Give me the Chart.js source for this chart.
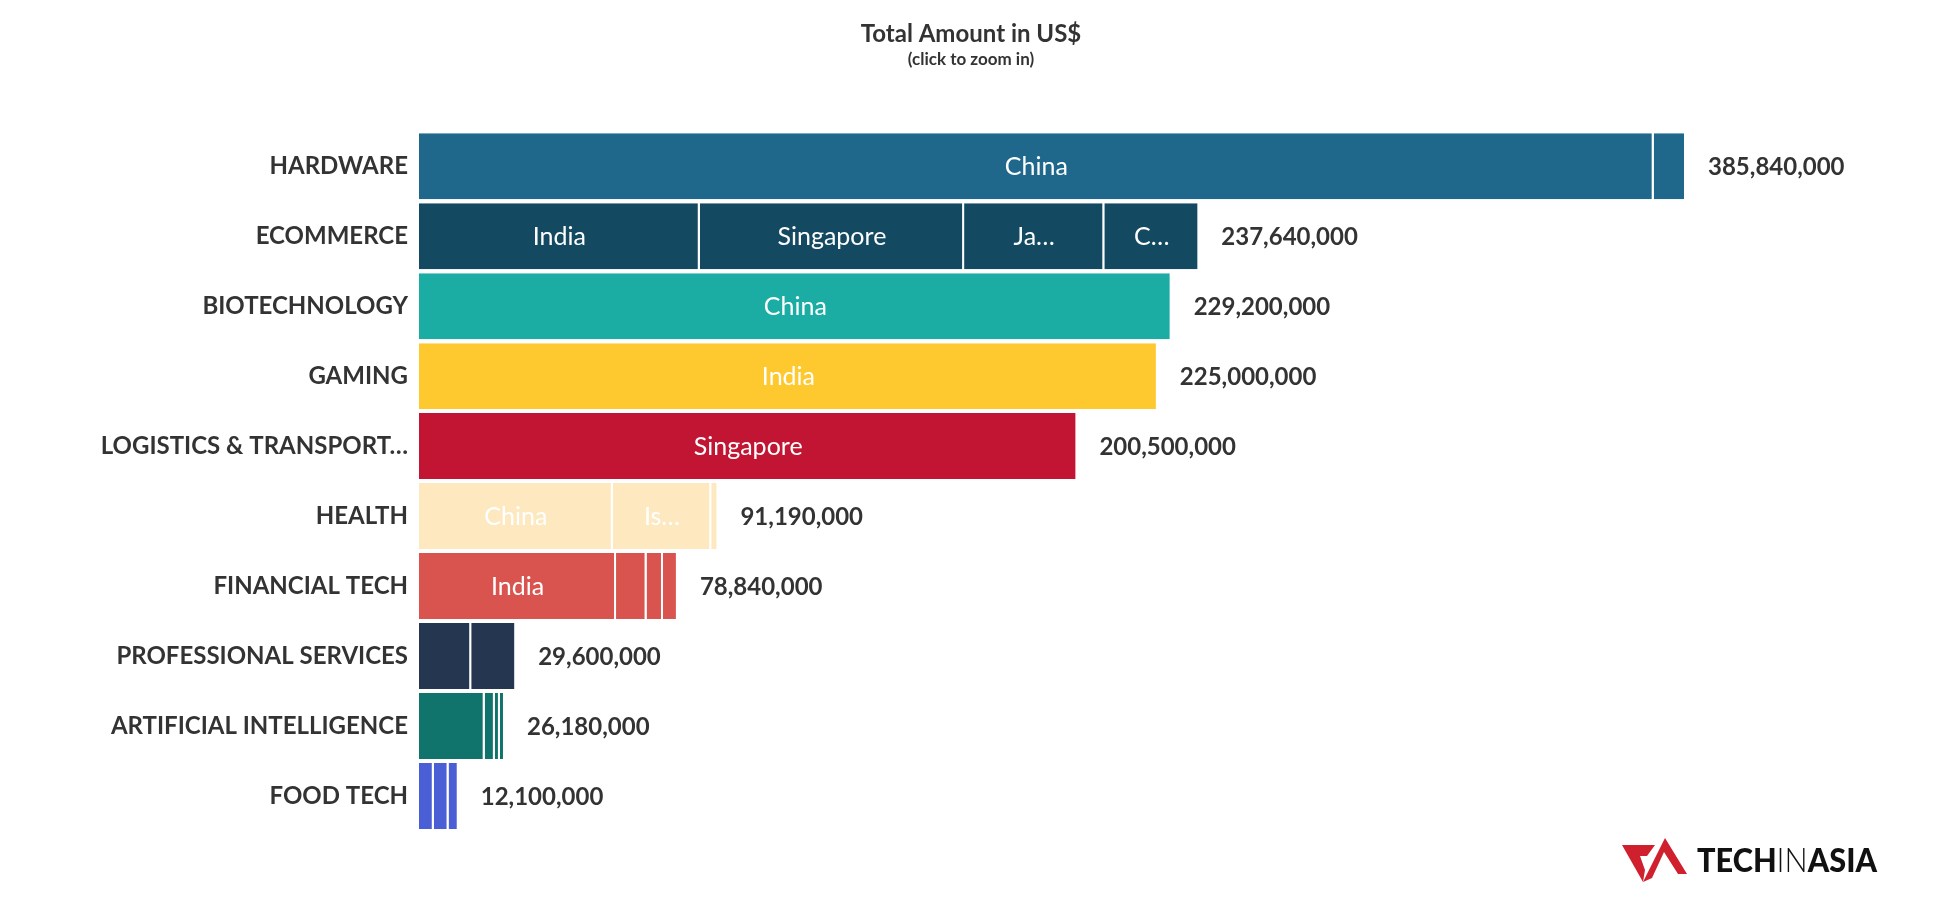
<!DOCTYPE html>
<html lang="en">
<head>
    <meta charset="UTF-8">
    <title>Total Amount in US$</title>
    <script src="https://cdn.jsdelivr.net/npm/chart.js"></script>
    <style>
        body { margin: 0; background: #fff; font-family: Lato, sans-serif; }
        #wrap { width: 1942px; height: 913px; position: relative; }
    </style>
</head>
<body>
    <div id="wrap"><canvas id="amountChart"></canvas></div>
    <script>
        // Industries (bars) and their colours
        const categories = ['HARDWARE', 'ECOMMERCE', 'BIOTECHNOLOGY', 'GAMING', 'LOGISTICS & TRANSPORTATION',
            'HEALTH', 'FINANCIAL TECH', 'PROFESSIONAL SERVICES', 'ARTIFICIAL INTELLIGENCE', 'FOOD TECH'];
        const categoryColors = ['#20688b', '#134a61', '#1bada4', '#fec82f', '#c11533',
            '#fee8bf', '#d9544f', '#253650', '#10736c', '#4a5fd5'];

        // Amount per country segment, in US$ (segment 1 = largest country)
        const segment1 = [376000000, 85500000, 229200000, 225000000, 200500000, 59000000, 60000000, 15900000, 20000000, 4500000];
        const segment2 = [9840000, 80500000, null, null, null, 30000000, 9300000, 13700000, 3100000, 4500000];
        const segment3 = [null, 42700000, null, null, null, 2190000, 5000000, null, 1540000, 3100000];
        const segment4 = [null, 28940000, null, null, null, null, 4540000, null, 1540000, null];

        // Country names as printed inside the segments
        const segment1Labels = ['China', 'India', 'China', 'India', 'Singapore', 'China', 'India', '', '', ''];
        const segment2Labels = ['', 'Singapore', '', '', '', 'Is…', '', '', '', ''];
        const segment3Labels = ['', 'Ja…', '', '', '', '', '', '', '', ''];
        const segment4Labels = ['', 'C…', '', '', '', '', '', '', '', ''];

        const xMax = 463800000;
        const labelMaxWidth = 310;

        const segments = [segment1, segment2, segment3, segment4];
        const segmentLabels = [segment1Labels, segment2Labels, segment3Labels, segment4Labels];
        const totals = categories.map((c, i) => segments.reduce((s, seg) => s + (seg[i] || 0), 0));

        // shorten a category name with an ellipsis when it is too wide
        const measureCtx = document.createElement('canvas').getContext('2d');
        function fitLabel(text) {
            measureCtx.font = 'bold 24px Lato';
            if (measureCtx.measureText(text).width <= labelMaxWidth) return text;
            let t = text;
            while (t.length > 1 && measureCtx.measureText(t + '…').width > labelMaxWidth) t = t.slice(0, -1);
            return t.trimEnd() + '…';
        }

        // Country names in the middle of each segment, totals at the end of each bar
        const barLabels = {
            id: 'barLabels',
            afterDatasetsDraw(chart) {
                const ctx = chart.ctx;
                ctx.save();
                ctx.textBaseline = 'middle';
                ctx.textAlign = 'center';
                ctx.fillStyle = '#ffffff';
                ctx.font = '25px Lato';
                chart.data.datasets.forEach((ds, d) => {
                    chart.getDatasetMeta(d).data.forEach((bar, i) => {
                        const text = segmentLabels[d][i];
                        if (!text || ds.data[i] == null) return;
                        ctx.fillText(text, (bar.x + bar.base) / 2, bar.y + 1);
                    });
                });
                const xScale = chart.scales.x;
                ctx.textAlign = 'left';
                ctx.fillStyle = '#333333';
                ctx.font = 'bold 24px Lato';
                const meta = chart.getDatasetMeta(0);
                totals.forEach((t, i) => {
                    ctx.fillText(t.toLocaleString('en-US'), xScale.getPixelForValue(t) + 22, meta.data[i].y + 1);
                });
                ctx.restore();
            }
        };

        // Tech in Asia logo, bottom right
        const logo = {
            id: 'logo',
            afterDraw(chart) {
                const ctx = chart.ctx;
                ctx.save();
                ctx.fillStyle = '#d0202e';
                ctx.beginPath();
                ctx.moveTo(1622, 845);
                ctx.lineTo(1655, 845);
                ctx.lineTo(1647, 856);
                ctx.lineTo(1640, 856);
                ctx.lineTo(1645, 870);
                ctx.lineTo(1643, 882);
                ctx.closePath();
                ctx.fill();
                ctx.beginPath();
                ctx.moveTo(1643, 882);
                ctx.lineTo(1665, 838);
                ctx.lineTo(1687, 874);
                ctx.lineTo(1678, 874);
                ctx.lineTo(1664, 852);
                ctx.lineTo(1652, 878);
                ctx.closePath();
                ctx.fill();

                ctx.fillStyle = '#111111';
                ctx.textBaseline = 'alphabetic';
                ctx.textAlign = 'left';
                const parts = [['TECH', '900'], ['IN', '300'], ['ASIA', '900']];
                let w = 0;
                parts.forEach(p => { ctx.font = p[1] + ' 33px Lato'; w += ctx.measureText(p[0]).width; });
                const sx = 180 / w;
                ctx.translate(1697, 872);
                ctx.scale(sx, 1);
                let x = 0;
                parts.forEach(p => {
                    ctx.font = p[1] + ' 33px Lato';
                    ctx.fillText(p[0], x, 0);
                    x += ctx.measureText(p[0]).width;
                });
                ctx.restore();
            }
        };

        const ctx = document.getElementById('amountChart').getContext('2d');
        const amountChart = new Chart(ctx, {
            type: 'bar',
            data: {
                labels: categories,
                datasets: segments.map((seg, d) => ({
                    label: 'Segment ' + (d + 1),
                    data: seg,
                    backgroundColor: categoryColors,
                    borderColor: '#ffffff',
                    borderWidth: { top: 0, right: 2, bottom: 0, left: 0 },
                    borderSkipped: false,
                    barPercentage: 66 / 70,
                    categoryPercentage: 1
                }))
            },
            options: {
                indexAxis: 'y',
                responsive: true,
                maintainAspectRatio: false,
                animation: false,
                layout: { padding: { top: 0, right: 0, bottom: 82, left: 0 } },
                plugins: {
                    legend: { display: false },
                    tooltip: { enabled: false },
                    title: {
                        display: true,
                        text: 'Total Amount in US$',
                        color: '#333333',
                        font: { family: 'Lato', size: 24, weight: 'bold', lineHeight: 1.2 },
                        padding: { top: 20, bottom: 0 }
                    },
                    subtitle: {
                        display: true,
                        text: '(click to zoom in)',
                        color: '#333333',
                        font: { family: 'Lato', size: 17, weight: 'bold', lineHeight: 1.2 },
                        padding: { top: 1, bottom: 61 }
                    }
                },
                scales: {
                    x: { display: false, stacked: true, min: 0, max: xMax },
                    y: {
                        stacked: true,
                        grid: { display: false, drawTicks: false },
                        border: { display: false },
                        ticks: {
                            padding: 11,
                            color: '#333333',
                            font: { family: 'Lato', size: 24, weight: 'bold' },
                            callback: function (value) {
                                return fitLabel(this.getLabelForValue(value));
                            }
                        },
                        afterFit(scale) { scale.width = 419; }
                    }
                }
            },
            plugins: [barLabels, logo]
        });
    </script>
</body>
</html>
